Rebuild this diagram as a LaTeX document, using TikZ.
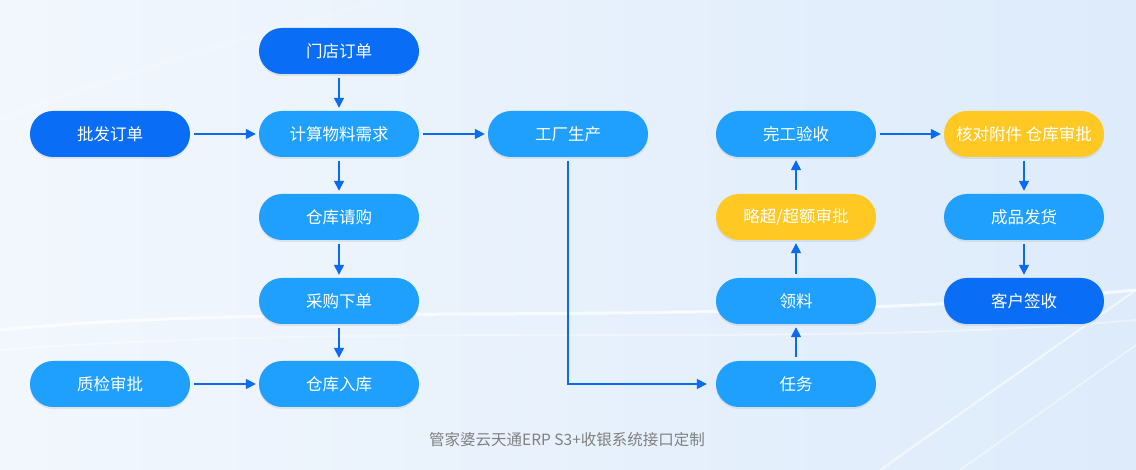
\documentclass[tikz,border=0pt]{standalone}
\usepackage{fontspec}
\newfontfamily\cjk{Noto Sans CJK SC}
\usetikzlibrary{shadows,arrows.meta}
\definecolor{darkb}{HTML}{0A6DF6}
\definecolor{lightb}{HTML}{1FA0FE}
\definecolor{yel}{HTML}{FFC823}
\definecolor{arr}{HTML}{0B6AF2}
\definecolor{bgA}{HTML}{F2F7FD}
\definecolor{bgB}{HTML}{DDEBFB}
\definecolor{foot}{HTML}{808080}
\tikzset{
  pill/.style={rectangle, rounded corners=22.9pt, minimum width=160pt, minimum height=46pt,
    inner sep=0pt, text=white, font=\cjk\fontsize{16.5}{18}\selectfont,
    drop shadow={shadow xshift=0pt, shadow yshift=-2pt, opacity=0.12, fill=black!60}},
  pdark/.style={pill, fill=darkb},
  plight/.style={pill, fill=lightb},
  pyel/.style={pill, fill=yel},
  flow/.style={draw=arr, line width=1.6pt, -{Triangle[length=10pt,width=10pt]}, shorten <=4pt, shorten >=3pt},
}
\begin{document}
\begin{tikzpicture}[x=1pt,y=-1pt]
\useasboundingbox (0,0) rectangle (1136,470);
\shade[left color=bgA, right color=bgB] (0,0) rectangle (1136,470);
% faint background waves
\draw[white, opacity=0.7, line width=3pt] (0,330) .. controls (300,300) and (700,330) .. (1136,290);
\draw[white, opacity=0.4, line width=2pt] (0,350) .. controls (400,320) and (800,350) .. (1136,320);
\draw[white, opacity=0.6, line width=2pt] (880,470) -- (1136,290);
\draw[white, opacity=0.5, line width=1.5pt] (960,470) -- (1136,345);
\draw[white, opacity=0.15, line width=6pt] (0,120) .. controls (150,60) and (250,40) .. (380,0);

% nodes
\node[pdark]  (md)  at (339,51)  {门店订单};
\node[pdark]  (pf)  at (110,134) {批发订单};
\node[plight] (js)  at (339,134) {计算物料需求};
\node[plight] (gc)  at (568,134) {工厂生产};
\node[plight] (qg)  at (339,217) {仓库请购};
\node[plight] (cg)  at (339,301) {采购下单};
\node[plight] (rk)  at (339,384) {仓库入库};
\node[plight] (zj)  at (110,384) {质检审批};
\node[plight] (wg)  at (796,134) {完工验收};
\node[pyel]   (lc)  at (796,217) {略超/超额审批};
\node[plight] (ll)  at (796,301) {领料};
\node[plight] (rw)  at (796,384) {任务};
\node[pyel]   (hd)  at (1024,134) {核对附件 仓库审批};
\node[plight] (fh)  at (1024,217) {成品发货};
\node[pdark]  (qs)  at (1024,301) {客户签收};

% connectors
\draw[flow] (md) -- (js);
\draw[flow] (pf) -- (js);
\draw[flow] (js) -- (gc);
\draw[flow] (js) -- (qg);
\draw[flow] (qg) -- (cg);
\draw[flow] (cg) -- (rk);
\draw[flow] (zj) -- (rk);
\draw[flow, shorten >=9pt] (gc.south) |- (rw.west);
\draw[flow] (rw) -- (ll);
\draw[flow] (ll) -- (lc);
\draw[flow] (lc) -- (wg);
\draw[flow] (wg) -- (hd);
\draw[flow] (hd) -- (fh);
\draw[flow] (fh) -- (qs);

\node[font=\cjk\fontsize{15.5}{17}\selectfont, text=foot] (ft) at (567,440) {管家婆云天通ERP S3+收银系统接口定制};
\end{tikzpicture}
\end{document}
